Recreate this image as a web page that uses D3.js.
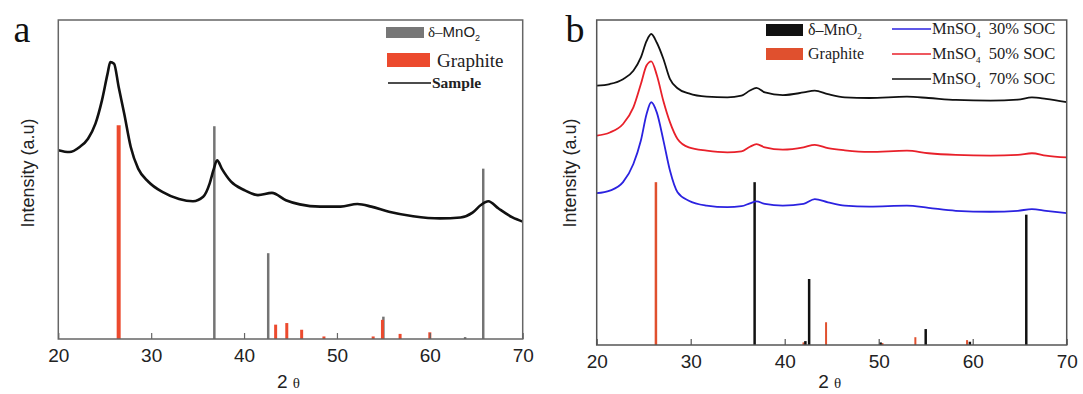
<!DOCTYPE html>
<html>
<head>
<meta charset="utf-8">
<script src="https://cdn.jsdelivr.net/npm/d3@7"></script>
<style>
  body { margin: 0; background: white; }
  svg { display: block; }
</style>
</head>
<body>
<div id="viz-container"></div>
<script>
// x ticks shared by both panels
let xTicks = [20, 30, 40, 50, 60, 70];

// panel a, sample pattern (2 theta, intensity a.u.)
let sampleX = [20, 21.2, 22.3, 23.2, 24.0, 24.7, 25.3, 25.6, 26.0, 26.5, 27.1, 27.8, 28.6, 29.7, 31.2, 33.0, 34.5, 35.6, 36.3, 36.7, 37.1, 37.6, 38.6, 40.0, 41.5, 43.0, 44.5, 46.0, 48.2, 50.4, 52.2, 53.7, 55.6, 58.2, 61.1, 63.3, 64.6, 65.5, 66.3, 67.4, 68.9, 70];
let sampleY = [59.2, 58.6, 60.2, 62.8, 67.5, 74.8, 83.1, 86.8, 86.3, 79.0, 70.6, 60.2, 53.4, 49.3, 46.1, 43.9, 43.2, 44.6, 48.8, 52.9, 56.0, 53.4, 49.3, 46.7, 45.1, 45.8, 43.5, 42.2, 41.5, 41.5, 42.3, 41.5, 39.9, 38.5, 37.8, 38.1, 39.6, 42.0, 43.2, 40.9, 38.1, 36.8];

// panel a, reference sticks
let mnoA_x = [36.8, 42.6, 55.0, 63.8, 65.75];
let mnoA_h = [66.7, 26.9, 7.0, 0.6, 53.4];
let grA_x = [26.5, 43.4, 44.6, 46.2, 48.6, 53.9, 54.9, 56.8, 60.0];
let grA_h = [67, 4.5, 5, 2.9, 0.8, 0.8, 6, 1.6, 2.1];

// panel b, three SOC patterns
let socX = [20, 21.4, 22.8, 23.9, 24.7, 25.3, 25.8, 26.4, 27.1, 27.8, 28.6, 29.8, 31.7, 33.9, 35.4, 36.3, 37.0, 37.9, 39.8, 42.0, 43.2, 44.6, 46.4, 49.0, 53.0, 55.3, 58.2, 61.9, 64.8, 66.3, 67.8, 70];
let soc30 = [46.7, 47.5, 50.1, 55.7, 62.9, 71.0, 74.7, 71.5, 62.9, 53.6, 47.0, 44.4, 42.9, 42.4, 42.7, 43.6, 44.2, 43.4, 42.9, 43.4, 44.9, 43.9, 42.9, 42.6, 42.9, 42.2, 41.3, 41.0, 41.3, 41.8, 41.3, 40.6];
let soc50 = [64.4, 65.4, 68.0, 73.1, 80.3, 86.0, 87.3, 83.0, 75.0, 68.5, 63.4, 60.8, 59.8, 59.3, 59.6, 61.0, 61.8, 60.8, 60.1, 60.8, 61.6, 60.6, 59.9, 59.4, 59.8, 59.0, 58.5, 58.3, 58.5, 59.0, 58.3, 57.7];
let soc70 = [79.8, 80.3, 81.8, 84.4, 88.5, 93.5, 95.7, 93.0, 88.0, 81.8, 79.0, 77.4, 76.4, 76.2, 76.7, 78.3, 79.1, 77.7, 76.9, 77.7, 78.3, 77.2, 76.2, 76.0, 76.4, 76.0, 75.4, 75.2, 75.5, 76.2, 75.7, 74.7];

// panel b, reference sticks
let mnoB_x = [36.8, 42.2, 42.6, 50.2, 55.0, 59.7, 65.7];
let mnoB_h = [50.1, 1.2, 20.3, 0.8, 4.9, 1.0, 40.1];
let grB_x = [26.3, 42.0, 44.4, 50.4, 53.9, 59.4];
let grB_h = [50.1, 0.8, 7.0, 0.6, 2.4, 1.5];

let serif = "'Liberation Serif', 'Times New Roman', serif";
let sans = "'Liberation Sans', Arial, sans-serif";

let viz = d3.select("#viz-container")
    .append("svg")
        .attr("width", 1083)
        .attr("height", 394)
        .style("background-color", "white");

function drawPanel(opt){
    let x = d3.scaleLinear().domain([20, 70]).range([opt.left, opt.right]);
    let y = d3.scaleLinear().domain([0, 100]).range([opt.bottom, opt.top]);

    let g = viz.append("g");

    // reference sticks
    opt.sticks.forEach(function(s){
        g.selectAll(null).data(s.x).enter().append("line")
            .attr("x1", function(d){ return x(d); })
            .attr("x2", function(d){ return x(d); })
            .attr("y1", y(0))
            .attr("y2", function(d, i){ return y(s.h[i]); })
            .attr("stroke", s.color)
            .attr("stroke-width", function(d, i){ return i == s.big ? s.bigW : s.w; });
    });

    // patterns
    let line = d3.line()
        .x(function(d){ return x(d[0]); })
        .y(function(d){ return y(d[1]); })
        .curve(d3.curveMonotoneX);

    opt.lines.forEach(function(l){
        g.append("path")
            .datum(l.x.map(function(v, i){ return [v, l.y[i]]; }))
            .attr("d", line)
            .attr("fill", "none")
            .attr("stroke", l.color)
            .attr("stroke-width", l.w)
            .attr("stroke-linejoin", "round");
    });

    // frame
    g.append("rect")
        .attr("x", opt.left).attr("y", opt.top)
        .attr("width", opt.right - opt.left).attr("height", opt.bottom - opt.top)
        .attr("fill", "none").attr("stroke", opt.frame).attr("stroke-width", 1.5);

    let axis = g.append("g")
        .attr("transform", "translate(0," + opt.bottom + ")")
        .call(d3.axisBottom(x).tickValues(xTicks).tickSize(-6).tickPadding(10));
    axis.select(".domain").remove();
    axis.selectAll("line").attr("stroke", opt.frame).attr("stroke-width", 1.2);
    axis.selectAll("text")
        .style("font-family", sans).style("font-size", "19px").attr("fill", "#222");

    // axis titles
    let xt = g.append("text")
        .attr("x", (opt.left + opt.right) / 2 - 2)
        .attr("y", 388)
        .attr("text-anchor", "middle")
        .attr("fill", "#222");
    xt.append("tspan").text("2 ").style("font-family", sans).style("font-size", "19px");
    xt.append("tspan").text("θ").style("font-family", serif).style("font-size", "15px");

    g.append("text")
        .attr("transform", "translate(" + opt.ylabX + ",173) rotate(-90)")
        .attr("text-anchor", "middle")
        .attr("dy", "0.35em")
        .style("font-family", sans).style("font-size", "18px")
        .attr("fill", "#222")
        .text("Intensity (a.u)");

    g.append("text")
        .attr("x", opt.letterX).attr("y", 42)
        .attr("text-anchor", "middle")
        .style("font-family", serif).style("font-size", "38px")
        .attr("fill", "#111")
        .text(opt.letter);

    return g;
}

// panel a
let ga = drawPanel({
    left: 58.3, right: 522.7, top: 20, bottom: 339,
    frame: "#666", letter: "a", letterX: 22, ylabX: 28,
    sticks: [
        {x: mnoA_x, h: mnoA_h, color: "#747474", w: 2.5, big: -1},
        {x: grA_x, h: grA_h, color: "#ec4a2e", w: 3, big: 0, bigW: 4}
    ],
    lines: [{x: sampleX, y: sampleY, color: "#111", w: 2.6}]
});

// legend a
ga.append("rect").attr("x", 386).attr("y", 27).attr("width", 38).attr("height", 11).attr("fill", "#777");
ga.append("rect").attr("x", 387).attr("y", 53).attr("width", 43).attr("height", 14).attr("fill", "#ec4a2e");
ga.append("line").attr("x1", 388).attr("x2", 431).attr("y1", 83).attr("y2", 83).attr("stroke", "#111").attr("stroke-width", 1.5);
let la1 = ga.append("text").attr("x", 428).attr("y", 37).attr("fill", "#222");
la1.append("tspan").text("δ–").style("font-family", serif).style("font-size", "15px");
la1.append("tspan").text("MnO").style("font-family", sans).style("font-size", "15px");
la1.append("tspan").text("2").style("font-family", sans).style("font-size", "9px").attr("dy", 4);
ga.append("text").attr("x", 437).attr("y", 67).attr("fill", "#222")
    .style("font-family", serif).style("font-size", "19px").text("Graphite");
ga.append("text").attr("x", 432).attr("y", 88).attr("fill", "#222")
    .style("font-family", serif).style("font-size", "15.5px").style("font-weight", "bold").text("Sample");

// panel b
let gb = drawPanel({
    left: 596.7, right: 1066.7, top: 20, bottom: 345,
    frame: "#555", letter: "b", letterX: 575, ylabX: 570,
    sticks: [
        {x: grB_x, h: grB_h, color: "#e0502e", w: 2, big: 0, bigW: 2.5},
        {x: mnoB_x, h: mnoB_h, color: "#111", w: 2.5, big: -1}
    ],
    lines: [
        {x: socX, y: soc30, color: "#2b22e0", w: 1.8},
        {x: socX, y: soc50, color: "#e8202a", w: 1.8},
        {x: socX, y: soc70, color: "#111", w: 1.8}
    ]
});

// legend b
gb.append("rect").attr("x", 766).attr("y", 24).attr("width", 37).attr("height", 12).attr("fill", "#111");
gb.append("rect").attr("x", 766).attr("y", 48).attr("width", 37).attr("height", 12).attr("fill", "#e0502e");
let lb1 = gb.append("text").attr("x", 808).attr("y", 35).attr("fill", "#222")
    .style("font-family", serif).style("font-size", "16px");
lb1.append("tspan").text("δ–MnO");
lb1.append("tspan").text("2").style("font-size", "9px").attr("dy", 4);
gb.append("text").attr("x", 808).attr("y", 59).attr("fill", "#222")
    .style("font-family", serif).style("font-size", "16px").text("Graphite");

let socNames = ["30% SOC", "50% SOC", "70% SOC"];
let socColors = ["#2b22e0", "#e8202a", "#111"];
let socY = [29, 54, 79];
socNames.forEach(function(n, i){
    gb.append("line").attr("x1", 892).attr("x2", 931)
        .attr("y1", socY[i]).attr("y2", socY[i])
        .attr("stroke", socColors[i]).attr("stroke-width", 1.5);
    let t = gb.append("text").attr("x", 932).attr("y", socY[i] + 5).attr("fill", "#222")
        .style("font-family", serif).style("font-size", "16.5px");
    t.append("tspan").text("MnSO");
    t.append("tspan").text("4").style("font-size", "9px").attr("dy", 4);
    t.append("tspan").text("  " + n).attr("dy", -4).attr("xml:space", "preserve");
});
</script>
</body>
</html>
